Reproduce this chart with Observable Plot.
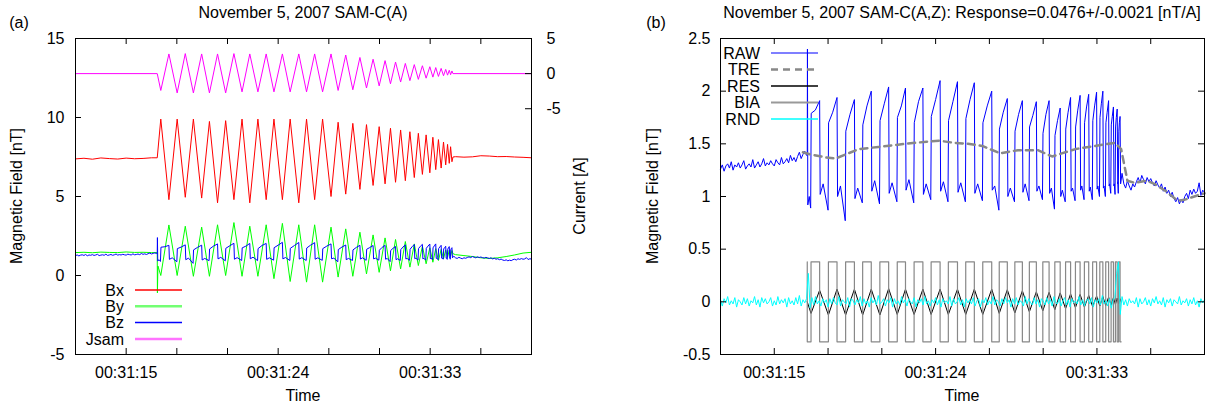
<!DOCTYPE html>
<html><head><meta charset="utf-8">
<script src="https://cdn.jsdelivr.net/npm/d3@7"></script>
<script src="https://cdn.jsdelivr.net/npm/@observablehq/plot@0.6"></script>
<style>
body{margin:0;background:#fff;}
#wrap{display:flex;width:1218px;height:407px;}
</style></head><body><div id="wrap"></div>
<script>
// ---------- axis / tick definitions ----------
const tickSecs = [15, 18, 21, 24, 27, 30, 33, 36];
const labelSecs = [15, 24, 33];
const leftYTicks = [-5, 0, 5, 10, 15];
const currentTicks = [5, 0, -5];
const rightYTicks = [-0.5, 0, 0.5, 1, 1.5, 2, 2.5];
const jZero = 12.7778, jScale = 0.44444; // current axis: A -> nT of left axis

// ---------- timing of the calibration current (s after 00:31:00) ----------
const startT = 16.84, endT = 34.35;
const troughT = [17.05, 18.02, 18.98, 19.93, 20.89, 21.86, 22.80, 23.75, 24.71, 25.68, 26.63, 27.55, 28.42, 29.23, 29.98, 30.65, 31.25, 31.80, 32.30, 32.76, 33.16, 33.49, 33.79, 34.03, 34.21];
const peakT   = [17.53, 18.50, 19.47, 20.41, 21.38, 22.32, 23.29, 24.25, 25.22, 26.16, 27.13, 28.00, 28.84, 29.62, 30.33, 30.95, 31.53, 32.06, 32.54, 32.98, 33.33, 33.65, 33.92, 34.13, 34.29];

// ---------- Jsam (A) ----------
const jLow  = [-2.4, -2.75, -2.75, -2.75, -2.75, -2.6, -2.6, -2.6, -2.6, -2.6, -2.6, -2.4, -2.3, -2.05, -1.75, -1.45, -1.2, -1.0, -0.82, -0.65, -0.5, -0.4, -0.3, -0.22, -0.15];
const jHigh = [2.8, 2.85, 2.8, 2.8, 2.85, 2.8, 2.8, 2.8, 2.8, 2.8, 2.8, 2.65, 2.3, 2.05, 1.85, 1.65, 1.45, 1.28, 1.12, 0.98, 0.86, 0.74, 0.6, 0.48, 0.38];

// ---------- Bx (nT) ----------
const bxPre  = [7.38, 7.42, 7.36, 7.44, 7.40, 7.37, 7.43, 7.39, 7.41, 7.45]; // 12.0.. step 0.5
const bxHigh = [9.9, 9.9, 9.9, 9.75, 9.8, 9.9, 9.9, 9.9, 9.9, 9.9, 9.9, 9.7, 9.63, 9.55, 9.42, 9.32, 9.21, 9.1, 9.0, 8.9, 8.75, 8.6, 8.45, 8.3, 8.15];
const bxLow  = [4.8, 4.95, 4.9, 4.6, 4.8, 4.6, 4.8, 4.8, 4.6, 4.8, 5.0, 5.15, 5.45, 5.7, 5.8, 5.9, 6.0, 6.2, 6.4, 6.5, 6.7, 6.8, 7.0, 7.1, 7.2];
const bxPost = [7.52, 7.49, 7.51, 7.58, 7.56, 7.52, 7.53, 7.50, 7.48, 7.45]; // 34.5.. step 0.5

// ---------- By (nT) ----------
const byPre  = [1.45, 1.47, 1.44, 1.48, 1.46, 1.45, 1.49, 1.46, 1.47, 1.45];
const byLow  = [0.0, 0.0, -0.05, -0.05, 0.0, -0.05, -0.05, -0.2, -0.38, -0.42, -0.42, -0.1, -0.05, 0.1, 0.2, 0.3, 0.42, 0.53, 0.63, 0.74, 0.84, 0.95, 1.05, 1.15, 1.22];
const byHigh = [3.2, 3.12, 3.06, 3.21, 3.35, 3.12, 3.21, 3.3, 3.21, 3.21, 3.06, 2.95, 2.74, 2.57, 2.38, 2.28, 2.15, 2.0, 1.86, 1.75, 1.7, 1.65, 1.62, 1.6, 1.58];
const byPost = [1.32, 1.26, 1.20, 1.12, 1.08, 1.12, 1.20, 1.30, 1.42, 1.47];

// ---------- Bz = RAW (nT) ----------
const rawPre = [1.26,1.30,1.24,1.29,1.31,1.27,1.33,1.25,1.30,1.28,
                1.32,1.27,1.30,1.34,1.26,1.29,1.31,1.28,1.35,1.27,
                1.30,1.33,1.28,1.31,1.36,1.29,1.32,1.30,1.34,1.31,
                1.29,1.35,1.32,1.30,1.37,1.31,1.33,1.36,1.32,1.39,
                1.34,1.37,1.33,1.38,1.42,1.36,1.40,1.43,1.39]; // 12.0.. step 0.1
const rawLow  = [0.89, 0.87, 0.77, 0.94, 0.93, 0.95, 0.94, 0.97, 0.95, 0.95, 0.96, 0.87, 0.95, 0.96, 0.97, 0.88, 0.95, 0.96, 0.97, 0.97, 1.0, 1.0, 1.03, 1.02, 1.03];
const rawRise = [1.79, 1.70, 1.62, 1.68, 1.72, 1.75, 1.70, 1.76, 1.72, 1.74, 1.70, 1.64, 1.62, 1.66, 1.60, 1.58, 1.64, 1.66, 1.70, 1.72, 1.75, 1.70, 1.68, 1.66, 1.62];
const rawMid  = [1.82, 1.80, 1.78, 1.86, 1.88, 1.86, 1.90, 1.92, 1.90, 1.92, 1.86, 1.80, 1.78, 1.77, 1.78, 1.72, 1.80, 1.82, 1.85, 1.86, 1.88, 1.80, 1.76, 1.75, 1.70];
const rawPeak = [1.91, 1.94, 1.92, 2.0, 2.04, 2.03, 2.03, 2.1, 2.09, 2.08, 2.0, 1.93, 1.91, 1.9, 1.91, 1.84, 1.94, 1.96, 1.97, 1.99, 2.0, 1.91, 1.85, 1.83, 1.76];
const rawDrop = [1.02, 1.0, 0.98, 1.05, 1.03, 1.06, 1.02, 1.05, 1.04, 1.03, 1.06, 1.0, 1.04, 1.05, 1.03, 1.0, 1.05, 1.06, 1.05, 1.07, 1.08, 1.1, 1.1, 1.12, 1.12];
const rawHump = [1.12, 1.10, 1.08, 1.15, 1.13, 1.16, 1.12, 1.14, 1.13, 1.12, 1.10, 1.08, 1.12, 1.10, 1.08, 1.06, 1.08, 1.10, 1.09, 1.10, 1.10, 1.12, 1.12, 1.14, 1.15];
const rawPost = [1.22,1.12,1.08,1.15,1.10,1.06,1.12,1.09,1.14,1.18,
                 1.13,1.20,1.16,1.12,1.18,1.14,1.17,1.13,1.10,1.15,
                 1.11,1.08,1.12,1.05,1.09,1.03,1.06,1.00,1.04,0.98,
                 0.95,0.99,0.93,0.97,0.94,1.00,1.03,0.98,1.06,1.02,
                 1.07,1.03,1.05,1.13,1.01,1.06,1.04]; // 34.4.. step 0.1

// ---------- TRE (nT) ----------
const treT = [16.6, 17.0, 17.9, 18.4, 19.0, 19.7, 20.8, 22.3, 23.5, 24.2, 25.0, 25.8, 26.6, 27.6, 28.6, 29.7, 30.5, 31.8, 32.9, 34.0, 34.35, 34.7, 35.1, 35.8, 36.2, 36.85, 37.5, 37.9, 38.6, 39.0];
const treV = [1.42, 1.40, 1.37, 1.36, 1.40, 1.45, 1.47, 1.50, 1.52, 1.53, 1.51, 1.50, 1.48, 1.41, 1.44, 1.44, 1.38, 1.45, 1.48, 1.51, 1.45, 1.15, 1.13, 1.15, 1.12, 1.05, 0.96, 0.97, 1.01, 1.03];

// ---------- RES (nT) ----------
const resHigh = [0.11, 0.12, 0.12, 0.12, 0.125, 0.12, 0.12, 0.12, 0.12, 0.12, 0.12, 0.115, 0.105, 0.095, 0.09, 0.085, 0.075, 0.07, 0.06, 0.055, 0.05, 0.045, 0.04, 0.035, 0.03];
const resLow  = [-0.11, -0.125, -0.125, -0.125, -0.125, -0.12, -0.12, -0.12, -0.12, -0.12, -0.12, -0.11, -0.105, -0.095, -0.085, -0.075, -0.065, -0.055, -0.05, -0.045, -0.04, -0.035, -0.03, -0.025, -0.02];

// ---------- BIA (nT) ----------
const biaLevel = 0.38;

// ---------- RND (0.01 nT), 12.0.. step 0.1 ----------
const rndCenti = [
 2,-4,3,-1,5,-3,1,-2,4,-5,2,0,-3,4,-2,3,-4,1,-1,5,
 -3,2,-5,4,-1,3,-2,0,4,-4,1,-3,5,-2,2,-1,3,-5,4,-2,
 1,-3,4,-2,6,-4,2,-1,3,27,-6,4,-3,5,-2,1,-4,3,-1,2,
 -5,3,-2,4,-1,-3,5,-4,2,0,-2,4,-5,3,1,-3,2,-1,5,-4,
 3,-2,1,-5,4,-1,2,-3,6,-2,0,3,-4,2,-1,4,-5,3,-2,1,
 -3,5,-1,2,-4,3,0,-2,4,-5,2,-1,3,-3,5,-2,1,-4,2,-1,
 4,-3,2,-5,3,-1,1,-2,5,-4,3,-2,0,4,-3,2,-5,3,-1,2,
 -2,4,-4,1,3,-5,2,-1,4,-3,1,-2,5,-3,2,0,-4,3,-2,4,
 -1,2,-5,3,-2,4,-3,1,0,-4,5,-2,3,-1,-3,4,-2,2,-5,3,
 1,-3,4,-2,2,-4,5,-1,-2,3,-4,1,4,-3,2,-5,3,-1,1,-2,
 5,-3,2,-4,1,3,-2,4,-5,2,-1,3,-3,6,-2,1,-4,3,-6,2,
 4,27,38,-12,5,-3,2,-4,3,-1,1,-2,4,-5,3,-2,0,4,-3,2,
 -4,3,-1,5,-2,1,-3,4,-5,2,-1,3,-4,2,0,-2,5,-3,1,-1,
 3,-4,2,-2,4,-3,1,-5,3,-1,2];

// ---------- build point lists ----------
const stepped = (start, step, vals) => vals.map((v, i) => [+(start + i * step).toFixed(3), v]);
const cyc = (lo, hi) => troughT.flatMap((t, i) => [[t, lo[i]], [peakT[i], hi[i]]]);

const jsam = [[12, 0], [startT, 0], ...cyc(jLow, jHigh), [endT, 0], [39, 0]];
const bx = [...stepped(12, 0.5, bxPre), [startT, 7.45], ...cyc(bxHigh, bxLow), [endT, 7.5], ...stepped(34.5, 0.5, bxPost)];
const by = [...stepped(12, 0.5, byPre), [startT, 1.45], [16.85, -1.1], [16.88, 0.6], ...cyc(byLow, byHigh), [endT, 1.38], ...stepped(34.5, 0.5, byPost)];
const raw = [...stepped(12, 0.1, rawPre), [startT, 1.41], [16.85, 2.4], [16.87, 0.92], [16.95, 1.0]];
troughT.forEach((t, i) => {
  const p = peakT[i];
  const next = i + 1 < troughT.length ? troughT[i + 1] : endT;
  raw.push([t - 0.02, rawLow[i]], [t + 0.01, rawRise[i]], [(t + p) / 2, rawMid[i]], [p, rawPeak[i]], [p + 0.03, rawDrop[i]]);
  if (i + 1 < troughT.length) raw.push([p + 0.4 * (next - p), rawHump[i]]);
});
raw.push(...stepped(34.4, 0.1, rawPost));
const tre = treT.map((t, i) => [t, treV[i]]);
const res = [[startT, 0], ...cyc(resLow, resHigh), [endT, 0]];
const bia = [[startT, biaLevel], [startT, -biaLevel]];
troughT.forEach((t, i) => bia.push([t, -biaLevel], [t, biaLevel], [peakT[i], biaLevel], [peakT[i], -biaLevel]));
bia.push([endT, -biaLevel]);
const rnd = rndCenti.map((c, i) => [+(12 + i * 0.1).toFixed(3), c / 100]);

// ---------- drawing ----------
const FONT = '"Liberation Sans", Arial, Helvetica, sans-serif';
const X = d => d[0], Y = d => d[1];
const timeLabel = s => "00:31:" + s;

const left = Plot.plot({
  width: 610, height: 407, marginLeft: 75, marginRight: 79, marginTop: 38, marginBottom: 53,
  style: {fontFamily: FONT, fontSize: "16px", color: "#000", background: "#fff"},
  x: {domain: [12, 39], axis: null},
  y: {domain: [-5, 15], axis: null},
  marks: [
    Plot.line(bx, {x: X, y: Y, stroke: "#ff0000", strokeWidth: 1}),
    Plot.line(by, {x: X, y: Y, stroke: "#00ff00", strokeWidth: 1}),
    Plot.line(raw, {x: X, y: Y, stroke: "#0000ff", strokeWidth: 1}),
    Plot.line(jsam, {x: X, y: d => jZero + d[1] * jScale, stroke: "#ff00ff", strokeWidth: 1}),
    Plot.frame({strokeWidth: 1}),
    Plot.tickX(tickSecs, {x: d => d, insetTop: 310}),
    Plot.tickX(tickSecs, {x: d => d, insetBottom: 310}),
    Plot.tickY(leftYTicks, {y: d => d, insetRight: 450}),
    Plot.tickY(currentTicks, {y: d => jZero + d * jScale, insetLeft: 450}),
    Plot.axisX(labelSecs, {tickSize: 0, tickPadding: 12, tickFormat: timeLabel}),
    Plot.axisY(leftYTicks, {tickSize: 0, tickPadding: 11, tickFormat: d => String(d)}),
    Plot.axisY(currentTicks.map(a => jZero + a * jScale), {anchor: "right", tickSize: 0, tickPadding: 15,
      tickFormat: d => String(Math.round((d - jZero) / jScale))})
  ]
});

const right = Plot.plot({
  width: 608, height: 407, marginLeft: 110, marginRight: 14, marginTop: 38, marginBottom: 53,
  style: {fontFamily: FONT, fontSize: "16px", color: "#000", background: "#fff"},
  x: {domain: [12, 39], axis: null},
  y: {domain: [-0.5, 2.5], axis: null},
  marks: [
    Plot.line(raw, {x: X, y: Y, stroke: "#0000ff", strokeWidth: 1}),
    Plot.line(tre, {x: X, y: Y, stroke: "#888888", strokeWidth: 2.5, strokeDasharray: "7,5"}),
    Plot.line(res, {x: X, y: Y, stroke: "#000000", strokeWidth: 1}),
    Plot.line(bia, {x: X, y: Y, stroke: "#888888", strokeWidth: 1.2}),
    Plot.line(rnd, {x: X, y: Y, stroke: "#00ffff", strokeWidth: 1}),
    Plot.frame({strokeWidth: 1}),
    Plot.tickX(tickSecs, {x: d => d, insetTop: 310}),
    Plot.tickX(tickSecs, {x: d => d, insetBottom: 310}),
    Plot.tickY(rightYTicks, {y: d => d, insetRight: 478}),
    Plot.tickY(rightYTicks, {y: d => d, insetLeft: 478}),
    Plot.axisX(labelSecs, {tickSize: 0, tickPadding: 12, tickFormat: timeLabel}),
    Plot.axisY(rightYTicks, {tickSize: 0, tickPadding: 10, tickFormat: d => String(d)})
  ]
});

const wrap = document.getElementById("wrap");
wrap.append(left, right);

function decorate(svg, o) {
  const s = d3.select(svg);
  const g = s.append("g").attr("font-family", FONT).attr("font-size", 16).attr("fill", "#000");
  g.append("text").attr("x", o.titleX).attr("y", 18).attr("text-anchor", "middle").text(o.title);
  g.append("text").attr("x", o.tagX).attr("y", 28).text(o.tag);
  g.append("text").attr("x", o.titleX).attr("y", 401).attr("text-anchor", "middle").text("Time");
  o.vlabels.forEach(v => g.append("text").attr("transform", `translate(${v.x},196) rotate(-90)`)
    .attr("text-anchor", "middle").text(v.text));
  o.legend.forEach(it => {
    g.append("text").attr("x", o.legTextEnd).attr("y", it.y).attr("dy", "0.35em").attr("text-anchor", "end").text(it.label);
    g.append("line").attr("x1", o.legX1).attr("x2", o.legX2).attr("y1", it.y).attr("y2", it.y)
      .attr("stroke", it.color).attr("stroke-width", it.w).attr("stroke-opacity", it.op || 1)
      .attr("stroke-dasharray", it.dash || null);
  });
}

decorate(left, {
  title: "November 5, 2007 SAM-C(A)", titleX: 303, tag: "(a)", tagX: 19,
  vlabels: [{x: 22, text: "Magnetic Field [nT]"}, {x: 585, text: "Current [A]"}],
  legTextEnd: 124, legX1: 135, legX2: 182,
  legend: [
    {label: "Bx", y: 290, color: "#ff0000", w: 1.5},
    {label: "By", y: 306.3, color: "#00ff00", w: 2.5, op: 0.55},
    {label: "Bz", y: 322.6, color: "#0000ff", w: 1.5},
    {label: "Jsam", y: 339, color: "#ff00ff", w: 2.5, op: 0.55}
  ]
});

decorate(right, {
  title: "November 5, 2007 SAM-C(A,Z): Response=0.0476+/-0.0021 [nT/A]", titleX: 352, tag: "(b)", tagX: 46,
  vlabels: [{x: 48, text: "Magnetic Field [nT]"}],
  legTextEnd: 150, legX1: 161, legX2: 208,
  legend: [
    {label: "RAW", y: 53, color: "#0000ff", w: 1.2},
    {label: "TRE", y: 69.5, color: "#888888", w: 2.5, dash: "7,5"},
    {label: "RES", y: 86, color: "#000000", w: 1.5},
    {label: "BIA", y: 102.5, color: "#999999", w: 2},
    {label: "RND", y: 119, color: "#00ffff", w: 1.5}
  ]
});
</script></body></html>
